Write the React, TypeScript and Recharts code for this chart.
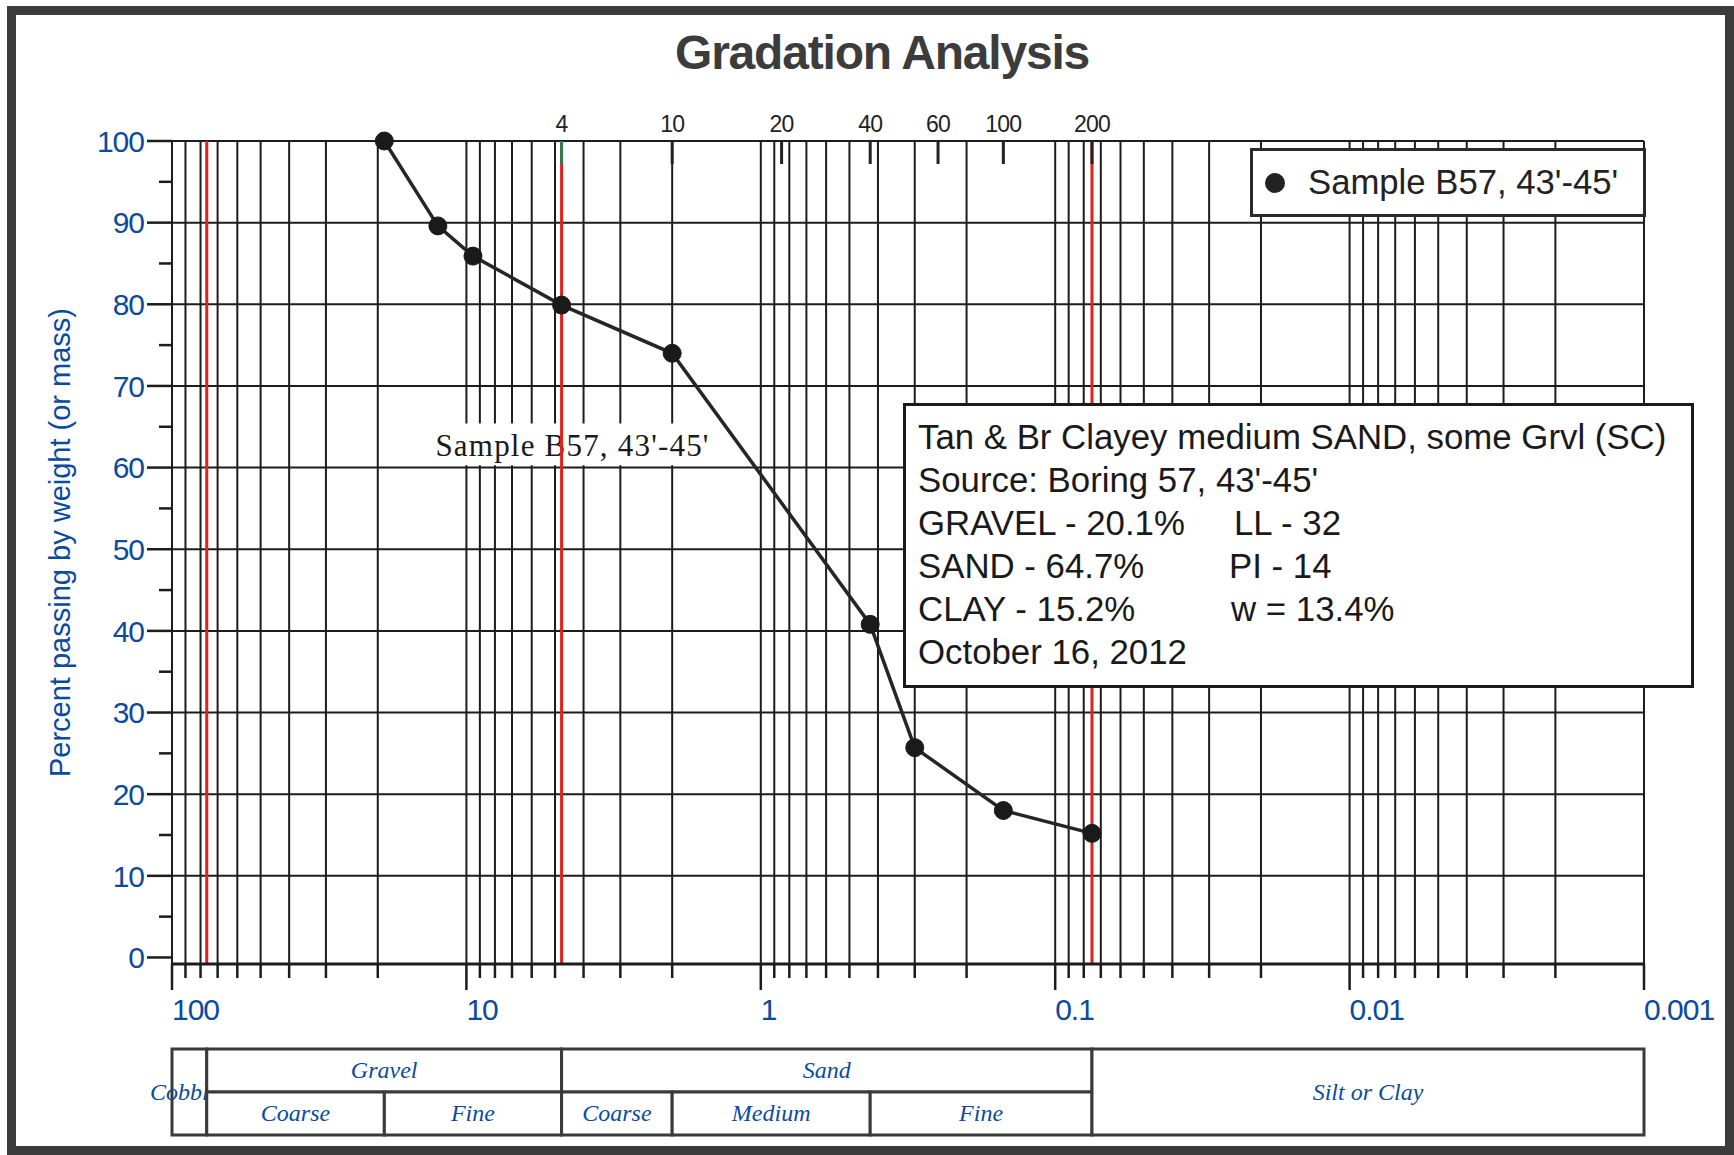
import {
  CartesianGrid,
  Legend,
  Line,
  LineChart,
  ReferenceArea,
  ReferenceLine,
  XAxis,
  YAxis,
} from "recharts";

// sieve results, grain size in mm vs percent passing
const grainSizes = [19, 12.5, 9.5, 4.75, 2.0, 0.425, 0.3, 0.15, 0.075];
const percentPassing = [100, 89.6, 85.9, 79.9, 74.0, 40.8, 25.7, 18.0, 15.2];

const gridTicks = [
  100, 90, 80, 70, 60, 50, 40, 30, 20,
  10, 9, 8, 7, 6, 5, 4, 3, 2,
  1, 0.9, 0.8, 0.7, 0.6, 0.5, 0.4, 0.3, 0.2,
  0.1, 0.09, 0.08, 0.07, 0.06, 0.05, 0.04, 0.03, 0.02,
  0.01, 0.009, 0.008, 0.007, 0.006, 0.005, 0.004, 0.003, 0.002,
  0.001,
];
const decadeTicks = [100, 10, 1, 0.1, 0.01, 0.001];
const percentTicks = [0, 5, 10, 15, 20, 25, 30, 35, 40, 45, 50, 55, 60, 65, 70, 75, 80, 85, 90, 95, 100];
const percentGrid = [10, 20, 30, 40, 50, 60, 70, 80, 90, 100];

const sieveSizes = [4.75, 2.0, 0.85, 0.425, 0.25, 0.15, 0.075];
const sieveNumbers = ["4", "10", "20", "40", "60", "100", "200"];

const boundaryLines = [76.2, 4.75, 0.075];

// soil classification bands (mm)
const classCells = [
  { name: "Cobbles", x1: 100, x2: 76.2, y1: 0, y2: 2 },
  { name: "Gravel", x1: 76.2, x2: 4.75, y1: 1, y2: 2 },
  { name: "Coarse", x1: 76.2, x2: 19, y1: 0, y2: 1 },
  { name: "Fine", x1: 19, x2: 4.75, y1: 0, y2: 1 },
  { name: "Sand", x1: 4.75, x2: 0.075, y1: 1, y2: 2 },
  { name: "Coarse", x1: 4.75, x2: 2, y1: 0, y2: 1 },
  { name: "Medium", x1: 2, x2: 0.425, y1: 0, y2: 1 },
  { name: "Fine", x1: 0.425, x2: 0.075, y1: 0, y2: 1 },
  { name: "Silt or Clay", x1: 0.075, x2: 0.001, y1: 0, y2: 2 },
];
const tableFrame = [
  { size: 100, level: 0 },
  { size: 0.001, level: 2 },
];

const sampleName = "Sample B57, 43'-45'";
const infoLeft = [
  "Tan & Br Clayey medium SAND, some Grvl (SC)",
  "Source: Boring 57, 43'-45'",
  "GRAVEL - 20.1%",
  "SAND - 64.7%",
  "CLAY - 15.2%",
  "October 16, 2012",
];
const infoRight = ["", "", "LL - 32", "PI - 14", "w = 13.4%", ""];
const infoRightShift = [0, 0, 3, -2, 0, 0];

const data = grainSizes.map((size, i) => ({ size, pct: percentPassing[i] }));

const INK = "#1c1c1c";
const BLUE = "#0a4a9f";
const SANS = "'Liberation Sans', Arial, sans-serif";
const SERIF = "'Liberation Serif', 'Times New Roman', serif";

function SizeTick(props: any) {
  const { x, y, payload } = props;
  const major = decadeTicks.includes(payload.value);
  return (
    <g>
      <line x1={x} x2={x} y1={y} y2={y + (major ? 26 : 14)} stroke={INK} strokeWidth={2.5} />
      {major && (
        <text x={x} y={y + 56} fill={BLUE} fontSize={30} letterSpacing={-1} fontFamily={SANS}>
          {payload.value}
        </text>
      )}
    </g>
  );
}

function SieveTick(props: any) {
  const { x, y, index } = props;
  return (
    <g>
      <line
        x1={x}
        x2={x}
        y1={y}
        y2={y + 23}
        stroke={index === 0 ? "#2e7d4f" : "#222"}
        strokeWidth={3}
      />
      <text x={x} y={y - 9} textAnchor="middle" fill="#222" fontSize={23} letterSpacing={-0.8} fontFamily={SANS}>
        {sieveNumbers[index]}
      </text>
    </g>
  );
}

function PercentTick(props: any) {
  const { x, y, payload } = props;
  const major = payload.value % 10 === 0;
  return (
    <g>
      <line x1={x - (major ? 25 : 13)} x2={x} y1={y} y2={y} stroke={INK} strokeWidth={2.5} />
      {major && (
        <text
          x={x - 28}
          y={y}
          dy="0.36em"
          textAnchor="end"
          fill={BLUE}
          fontSize={30}
          letterSpacing={-1}
          fontFamily={SANS}
        >
          {payload.value}
        </text>
      )}
    </g>
  );
}

// table cell text; the Cobbles cell is too narrow, so its text runs out left and is cut on the right
function cellLabel(name: string, cutRight: boolean) {
  return ({ viewBox }: any) => {
    const pad = cutRight ? 40 : 0;
    return (
      <svg
        x={viewBox.x - pad}
        y={viewBox.y}
        width={viewBox.width + pad - (cutRight ? 1.5 : 0)}
        height={viewBox.height}
        overflow={cutRight ? "hidden" : "visible"}
      >
        <text
          x={pad + viewBox.width / 2}
          y={viewBox.height / 2}
          dy="0.33em"
          textAnchor="middle"
          fill={BLUE}
          fontSize={24}
          fontStyle="italic"
          fontFamily={SERIF}
        >
          {name}
        </text>
      </svg>
    );
  };
}

function sampleLabel({ viewBox }: any) {
  return (
    <text
      x={viewBox.x + viewBox.width / 2}
      y={viewBox.y + viewBox.height / 2}
      dy="0.38em"
      textAnchor="middle"
      fill="#1a1a1a"
      fontSize={31}
      letterSpacing={1.2}
      fontFamily={SERIF}
    >
      {sampleName}
    </text>
  );
}

function SampleLegend() {
  return (
    <div
      style={{
        boxSizing: "border-box",
        width: 396,
        height: 69,
        border: "3px solid #2a2a2a",
        background: "#fff",
        display: "flex",
        alignItems: "center",
        paddingLeft: 12,
        fontFamily: SANS,
        fontSize: 34.7,
        color: "#222",
        whiteSpace: "nowrap",
      }}
    >
      <span
        style={{ flex: "none", width: 20, height: 20, borderRadius: 10, background: "#222", marginRight: 23 }}
      />
      {sampleName}
    </div>
  );
}

export default function App() {
  return (
    <div style={{ position: "absolute", left: 0, top: 0, width: 1734, height: 1155, background: "#fff" }}>
      <div
        style={{
          position: "absolute",
          left: 7,
          top: 6,
          width: 1727,
          height: 1149,
          boxSizing: "border-box",
          border: "9px solid #3b3b3b",
        }}
      />
      <div
        style={{
          position: "absolute",
          left: 675,
          top: 29,
          fontFamily: SANS,
          fontWeight: 700,
          fontSize: 48,
          lineHeight: "48px",
          letterSpacing: -1.2,
          color: "#3c3c3c",
          whiteSpace: "nowrap",
        }}
      >
        Gradation Analysis
      </div>

      <div style={{ position: "absolute", left: 0, top: 0 }}>
        <LineChart
          width={1734}
          height={1155}
          data={data}
          margin={{ top: 101, right: 90, bottom: 131, left: 20 }}
        >
          <CartesianGrid stroke={INK} strokeWidth={2} horizontalValues={percentGrid} />
          <XAxis
            dataKey="size"
            type="number"
            scale="log"
            domain={[0.001, 100]}
            reversed
            ticks={gridTicks}
            interval={0}
            height={60}
            tickSize={0}
            tickMargin={0}
            tickLine={false}
            axisLine={{ stroke: INK, strokeWidth: 3 }}
            tick={<SizeTick />}
          />
          <XAxis
            xAxisId="top"
            orientation="top"
            dataKey="size"
            type="number"
            scale="log"
            domain={[0.001, 100]}
            reversed
            ticks={sieveSizes}
            interval={0}
            height={40}
            tickSize={0}
            tickMargin={0}
            tickLine={false}
            axisLine={false}
            tick={<SieveTick />}
          />
          <YAxis
            type="number"
            domain={[-0.8, 100]}
            ticks={percentTicks}
            interval={0}
            width={152}
            tickSize={0}
            tickMargin={0}
            tickLine={false}
            axisLine={false}
            tick={<PercentTick />}
            label={{
              content: ({ viewBox }: any) => (
                <text
                  transform={`translate(${viewBox.x + 40} ${viewBox.y + viewBox.height / 2 - 10}) rotate(-90)`}
                  textAnchor="middle"
                  dominantBaseline="central"
                  fill={BLUE}
                  fontSize={29}
                  fontFamily={SANS}
                >
                  Percent passing by weight (or mass)
                </text>
              ),
            }}
          />
          <ReferenceArea
            x1={13.2}
            x2={1.44}
            y1={60.3}
            y2={65.4}
            fill="#fff"
            fillOpacity={1}
            stroke="none"
            label={sampleLabel}
          />
          {boundaryLines.map((v) => (
            <ReferenceLine key={v} x={v} stroke="#e3211c" strokeWidth={3} />
          ))}
          <Line
            type="linear"
            dataKey="pct"
            stroke="#262626"
            strokeWidth={3.5}
            dot={{ r: 9, fill: "#1a1a1a", stroke: "#1a1a1a", strokeWidth: 1 }}
            isAnimationActive={false}
          />
          <Legend
            layout="horizontal"
            verticalAlign="middle"
            align="center"
            wrapperStyle={{ left: 1250, top: 148, width: 396, height: 69 }}
            content={() => <SampleLegend />}
          />
        </LineChart>
      </div>

      <div
        style={{
          position: "absolute",
          left: 903,
          top: 403,
          width: 791,
          height: 285,
          boxSizing: "border-box",
          border: "3px solid #1a1a1a",
          background: "#fff",
          padding: "9px 0 0 12px",
          fontFamily: SANS,
          fontSize: 34.8,
          lineHeight: "43px",
          color: "#1a1a1a",
          whiteSpace: "nowrap",
        }}
      >
        {infoLeft.map((t, i) => (
          <div key={i} style={{ position: "relative", height: 43 }}>
            {t}
            {infoRight[i] && (
              <span style={{ position: "absolute", left: 313 + infoRightShift[i], top: 0 }}>
                {infoRight[i]}
              </span>
            )}
          </div>
        ))}
      </div>

      <div style={{ position: "absolute", left: 0, top: 1030 }}>
        <LineChart
          width={1734}
          height={120}
          data={tableFrame}
          margin={{ top: 19, right: 90, bottom: 15, left: 172 }}
        >
          <XAxis
            dataKey="size"
            type="number"
            scale="log"
            domain={[0.001, 100]}
            reversed
            allowDataOverflow
            hide
          />
          <YAxis type="number" domain={[0, 2]} allowDataOverflow hide />
          <Line dataKey="level" stroke="none" dot={false} isAnimationActive={false} />
          {classCells.map((c, i) => (
            <ReferenceArea
              key={i}
              x1={c.x1}
              x2={c.x2}
              y1={c.y1}
              y2={c.y2}
              fill="#fff"
              fillOpacity={1}
              stroke="#3a3a3a"
              strokeWidth={3}
              label={cellLabel(c.name, c.name === "Cobbles")}
            />
          ))}
        </LineChart>
      </div>
    </div>
  );
}
